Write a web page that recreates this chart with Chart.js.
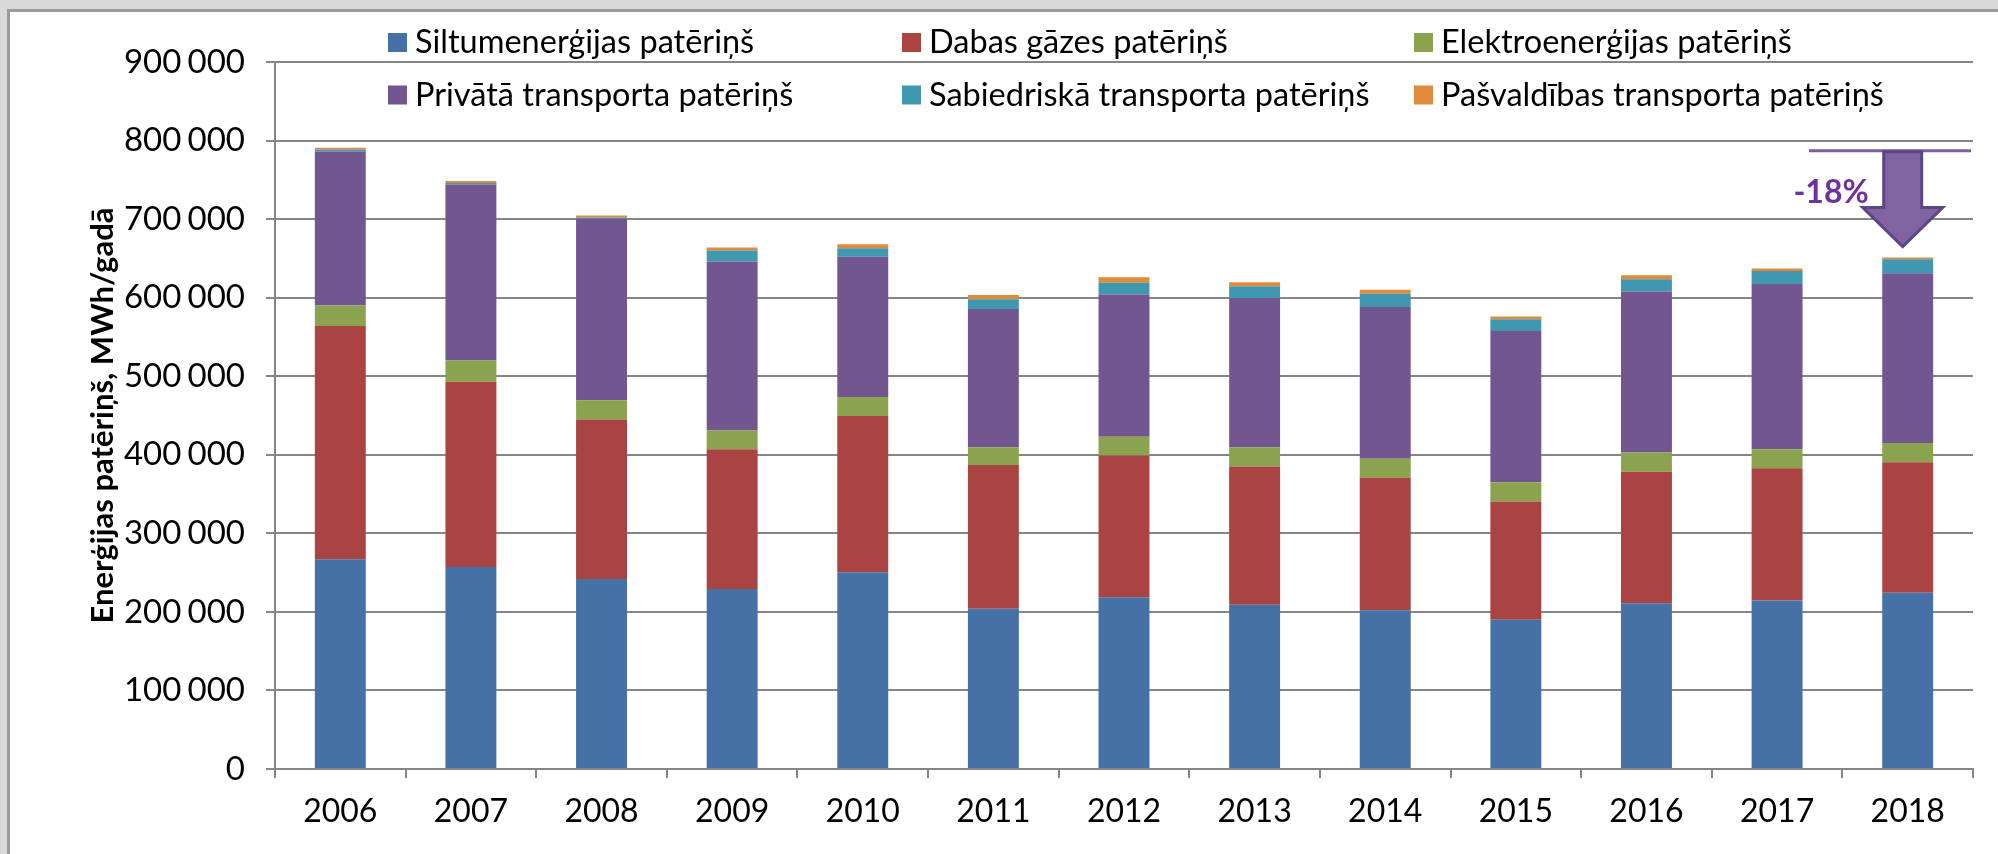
<!DOCTYPE html>
<html><head><meta charset="utf-8">
<script src="https://cdn.jsdelivr.net/npm/chart.js@4.4.1/dist/chart.umd.min.js"></script>
<style>
html,body{margin:0;padding:0;background:#d9d9d9;width:1998px;height:854px;overflow:hidden;}
#panel{position:absolute;left:7px;top:9px;right:0;bottom:0;background:#fff;border-left:3px solid #9b9b9b;border-top:3px solid #9b9b9b;}
#wrap{position:absolute;left:0;top:0;width:1998px;height:854px;}
</style></head><body>
<div id="panel"></div>
<div id="wrap"><canvas id="c" width="1998" height="854"></canvas></div>
<script>
const years = ['2006','2007','2008','2009','2010','2011','2012','2013','2014','2015','2016','2017','2018'];
const seriesNames = ['Siltumenerģijas patēriņš','Dabas gāzes patēriņš','Elektroenerģijas patēriņš','Privātā transporta patēriņš','Sabiedriskā transporta patēriņš','Pašvaldības transporta patēriņš'];
const siltumenergija = [267000,257000,242000,229000,250500,204000,218500,209000,202000,190000,211000,214500,224500];
const dabasGaze      = [297000,236000,203000,178000,199000,183000,180500,176000,169000,150500,167500,168500,166000];
const elektroenergija= [ 26000, 27000, 24500, 24000, 24000, 22500, 24000, 24500, 24000, 24500, 24500, 24000, 24500];
const privatais      = [196000,224000,231000,215000,178500,176000,181000,190000,193000,192500,205000,210500,216000];
const sabiedriskais  = [  2500,  2000,  1500, 14000, 11000, 12500, 15000, 15000, 17000, 15000, 15500, 16500, 18000];
const pasvaldibas    = [  2500,  2500,  2500,  4000,  5000,  5500,  7000,  5000,  5000,  3500,  5000,  3000,  2000];
const seriesColors = ['#4571a6','#a94442','#8ba34e','#72568f','#3f98b0','#e08a3c'];
const yTicks = [0,100000,200000,300000,400000,500000,600000,700000,800000,900000];
const yTitle = 'Enerģijas patēriņš, MWh/gadā';
const refLevel = 787000;

const seriesData = [siltumenergija,dabasGaze,elektroenergija,privatais,sabiedriskais,pasvaldibas];
const FONT = 'Lato';
const fmt = v => String(v).replace(/\B(?=(\d{3})+(?!\d))/g, ' ');

const legendPlugin = {
  id: 'gridLegend',
  afterDraw(chart) {
    const ctx = chart.ctx;
    const colX = [388, 902, 1414];
    const rowBase = [53, 105.5];
    ctx.save();
    ctx.font = '32.5px ' + FONT;
    ctx.textAlign = 'left';
    ctx.textBaseline = 'alphabetic';
    chart.data.datasets.forEach((ds, i) => {
      const r = Math.floor(i / 3), c = i % 3;
      const x = colX[c], b = rowBase[r];
      ctx.fillStyle = ds.backgroundColor;
      ctx.fillRect(x, b - 20, 19, 19);
      ctx.fillStyle = '#000';
      ctx.fillText(ds.label, x + 27, b);
    });
    ctx.restore();
  }
};

const arrowPlugin = {
  id: 'arrowNote',
  afterDatasetsDraw(chart) {
    const ctx = chart.ctx, xs = chart.scales.x, ys = chart.scales.y, ca = chart.chartArea;
    const last = years.length - 1;
    const total = i => seriesData.reduce((s, arr) => s + arr[i], 0);
    const firstT = total(0), lastT = total(last);
    const pct = Math.round((lastT - firstT) / firstT * 100);
    const lineY = ys.getPixelForValue(refLevel);
    const cx = xs.getPixelForValue(last) - 5;
    const tipY = ys.getPixelForValue(lastT) - 11;
    const headY = tipY - 39;
    ctx.save();
    ctx.strokeStyle = '#7b5ea7';
    ctx.lineWidth = 3;
    ctx.beginPath();
    ctx.moveTo(ca.right - 164, lineY);
    ctx.lineTo(ca.right - 2, lineY);
    ctx.stroke();
    ctx.beginPath();
    ctx.moveTo(cx - 19, lineY + 1);
    ctx.lineTo(cx + 19, lineY + 1);
    ctx.lineTo(cx + 19, headY);
    ctx.lineTo(cx + 40, headY);
    ctx.lineTo(cx, tipY);
    ctx.lineTo(cx - 40, headY);
    ctx.lineTo(cx - 19, headY);
    ctx.closePath();
    ctx.fillStyle = '#8064a2';
    ctx.fill();
    ctx.strokeStyle = '#5c4683';
    ctx.lineWidth = 3;
    ctx.lineJoin = 'miter';
    ctx.stroke();
    ctx.font = 'bold 32px ' + FONT;
    ctx.fillStyle = '#7030a0';
    ctx.textAlign = 'right';
    ctx.textBaseline = 'alphabetic';
    ctx.fillText(pct + '%', cx - 34, lineY + 52);
    ctx.restore();
  }
};

function draw() {
  new Chart(document.getElementById('c'), {
    type: 'bar',
    data: {
      labels: years,
      datasets: seriesNames.map((n, i) => ({
        label: n,
        data: seriesData[i],
        backgroundColor: seriesColors[i],
        borderWidth: 0,
        categoryPercentage: 1,
        barPercentage: 0.39
      }))
    },
    options: {
      responsive: false,
      animation: false,
      layout: { padding: { top: 62, right: 25, left: 0, bottom: 0 } },
      plugins: { legend: { display: false }, tooltip: { enabled: false } },
      scales: {
        x: {
          stacked: true,
          offset: true,
          grid: { display: true, drawOnChartArea: false, drawTicks: true, tickLength: 9, color: '#868686', lineWidth: 2, offset: true },
          border: { display: true, color: '#868686', width: 2 },
          ticks: { font: { family: FONT, size: 32 }, color: '#000', padding: 14, maxRotation: 0 },
          afterFit(s) { s.height = 85; }
        },
        y: {
          stacked: true,
          min: 0, max: 900000,
          afterBuildTicks(s) { s.ticks = yTicks.map(v => ({ value: v })); },
          grid: { color: '#868686', lineWidth: 2, tickLength: 9, drawTicks: true },
          border: { display: true, color: '#868686', width: 2 },
          ticks: { font: { family: FONT, size: 33 }, color: '#000', padding: 21, callback: v => fmt(v).replace(' ', '\u2009\u200A') },
          title: { display: true, text: yTitle, color: '#000', font: { family: FONT, size: 31, weight: 'bold' }, padding: { top: 84, bottom: 0 } },
          afterFit(s) { s.width = 275; }
        }
      }
    },
    plugins: [legendPlugin, arrowPlugin]
  });
}
if (document.fonts && document.fonts.load) {
  Promise.all([document.fonts.load('30px Lato'), document.fonts.load('bold 30px Lato')]).then(draw, draw);
} else { draw(); }
</script>
</body></html>
